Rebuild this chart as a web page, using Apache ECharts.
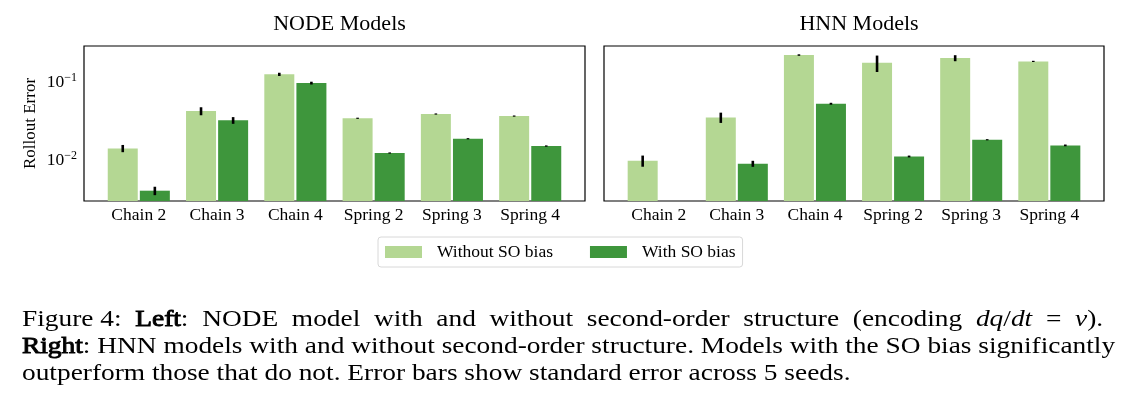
<!DOCTYPE html>
<html><head><meta charset="utf-8">
<script src="https://cdn.jsdelivr.net/npm/echarts@6/dist/echarts.min.js"></script>
<style>html,body{margin:0;padding:0;background:#fff}#c{width:1129px;height:402px}</style>
</head><body><div id="c"></div>
<script>
const categories = ['Chain 2','Chain 3','Chain 4','Spring 2','Spring 3','Spring 4'];
const nodeWithout    = [0.0141, 0.0425, 0.1256, 0.0343, 0.0389, 0.0366];
const nodeWithoutErr = [0.0015, 0.0050, 0.0060, 0.0005, 0.0005, 0.0004];
const nodeWith       = [0.00404, 0.0323, 0.0970, 0.0123, 0.01875, 0.0151];
const nodeWithErr    = [0.0005, 0.0032, 0.0040, 0.0002, 0.0003, 0.0003];
const hnnWithout     = [0.0098, 0.0352, 0.222, 0.1766, 0.203, 0.184];
const hnnWithoutErr  = [0.0016, 0.0053, 0.005, 0.042, 0.018, 0.001];
const hnnWith        = [null, 0.00897, 0.0527, 0.0111, 0.0182, 0.0154];
const hnnWithErr     = [null, 0.0008, 0.0015, 0.0003, 0.0003, 0.0004];
const yTicks = [0.01, 0.1];
const yTickExp = ['\u22122', '\u22121'];
const seriesNames = ['Without SO bias', 'With SO bias'];
const panelTitles = ['NODE Models', 'HNN Models'];

const LIGHT = '#b4d793', DARK = '#3e963c';
const FONT = 'Liberation Serif';
const OFF = 0.205;
const BW = 30;
const YMIN = 0.00298, YMAX = 0.29;

function barData(vals, errs, shift) {
  const out = [];
  vals.forEach((v, i) => { if (v != null) out.push([i + shift, v, errs[i]]); });
  return out;
}
function renderBar(params, api) {
  const x = api.value(0), v = api.value(1);
  const top = api.coord([x, v]);
  const bot = api.coord([x, YMIN]);
  return { type: 'rect', shape: { x: top[0] - BW / 2, y: top[1], width: BW, height: bot[1] - top[1] },
           style: { fill: api.visual('color') } };
}
function renderErr(params, api) {
  const x = api.value(0), v = api.value(1), e = api.value(2);
  const p1 = api.coord([x, v - e]);
  const p2 = api.coord([x, v + e]);
  let y1 = p1[1], y2 = p2[1];
  if (Math.abs(y1 - y2) < 1.2) { const m = (y1 + y2) / 2; y1 = m + 0.6; y2 = m - 0.6; }
  return { type: 'line', shape: { x1: p1[0], y1: y1, x2: p2[0], y2: y2 },
           style: { stroke: '#000', lineWidth: 2.6 } };
}
function yLabel(v) {
  for (let i = 0; i < yTicks.length; i++) {
    if (Math.abs(v / yTicks[i] - 1) < 1e-6) return '{b|10}{s|' + yTickExp[i] + '}';
  }
  return '';
}

const grids = [
  { left: 84, top: 46, width: 501, height: 155 },
  { left: 604, top: 46, width: 500, height: 155 }
].map(g => Object.assign(g, { show: true, borderColor: '#000', borderWidth: 1.2, backgroundColor: 'transparent' }));

const xAxes = [0, 1].map(gi => ({
  type: 'value', gridIndex: gi, min: -0.7, max: 5.7,
  axisLine: { show: false }, axisTick: { show: false }, splitLine: { show: false },
  axisLabel: {
    customValues: categories.map((c, i) => i),
    formatter: v => categories[Math.round(v)] || '',
    fontFamily: FONT, fontSize: 17.5, color: '#000', margin: 5
  }
}));
const yAxes = [0, 1].map(gi => ({
  type: 'log', logBase: 10, gridIndex: gi, min: YMIN, max: YMAX,
  name: gi === 0 ? 'Rollout Error' : '', nameLocation: 'middle', nameGap: 45, nameRotate: 90,
  nameTextStyle: { fontFamily: FONT, fontSize: 17, color: '#000' },
  axisLine: { show: false }, axisTick: { show: false }, splitLine: { show: false }, minorTick: { show: false },
  axisLabel: {
    show: gi === 0, showMinLabel: false, showMaxLabel: false, margin: 7,
    formatter: yLabel,
    rich: {
      b: { fontFamily: FONT, fontSize: 17.5, color: '#000' },
      s: { fontFamily: FONT, fontSize: 12, color: '#000', padding: [0, 0, 9, 0] }
    }
  }
}));

const panels = [
  { w: nodeWithout, we: nodeWithoutErr, s: nodeWith, se: nodeWithErr },
  { w: hnnWithout, we: hnnWithoutErr, s: hnnWith, se: hnnWithErr }
];
const series = [];
panels.forEach((p, gi) => {
  series.push({ name: seriesNames[0], type: 'custom', xAxisIndex: gi, yAxisIndex: gi, renderItem: renderBar,
    data: barData(p.w, p.we, -OFF), itemStyle: { color: LIGHT }, z: 2 });
  series.push({ name: seriesNames[1], type: 'custom', xAxisIndex: gi, yAxisIndex: gi, renderItem: renderBar,
    data: barData(p.s, p.se, OFF), itemStyle: { color: DARK }, z: 2 });
});
panels.forEach((p, gi) => {
  series.push({ type: 'custom', xAxisIndex: gi, yAxisIndex: gi, renderItem: renderErr,
    data: barData(p.w, p.we, -OFF), z: 5, silent: true });
  series.push({ type: 'custom', xAxisIndex: gi, yAxisIndex: gi, renderItem: renderErr,
    data: barData(p.s, p.se, OFF), z: 5, silent: true });
});

const CAPF = 23;
const capRich = {
  n: { font: 'normal ' + CAPF + 'px "Liberation Serif"', fill: '#000' },
  b: { font: 'normal ' + CAPF + 'px "Liberation Serif"', fill: '#000', stroke: '#000', lineWidth: 0.9 },
  i: { font: 'italic ' + CAPF + 'px "Liberation Serif"', fill: '#000' }
};
const capLines = [
  '{n|Figure 4:  }{b|Left}{n|:  NODE  model  with  and  without  second-order  structure  (encoding  }{i|dq}{n|/}{i|dt}{n|  =  }{i|v}{n|).}',
  '{b|Right}{n|: HNN models with and without second-order structure. Models with the SO bias significantly}',
  '{n|outperform those that do not. Error bars show standard error across 5 seeds.}'
];

const option = {
  animation: false,
  backgroundColor: '#fff',
  title: [
    { text: panelTitles[0], left: 334.5, top: 8, textAlign: 'center',
      textStyle: { fontFamily: FONT, fontSize: 22, fontWeight: 'normal', color: '#000' } },
    { text: panelTitles[1], left: 854, top: 8, textAlign: 'center',
      textStyle: { fontFamily: FONT, fontSize: 22, fontWeight: 'normal', color: '#000' } }
  ],
  graphic: capLines.map((t, k) => ({
    type: 'text', x: 22, y: 308 + k * 27, scaleX: 1.19,
    style: { text: t, rich: capRich, font: 'normal ' + CAPF + 'px "Liberation Serif"', fill: '#000' }
  })),
  legend: {
    data: seriesNames, left: 378, top: 237, orient: 'horizontal',
    padding: [6, 7, 6, 7], itemWidth: 37, itemHeight: 12, itemGap: 37,
    backgroundColor: '#fff', borderColor: '#d8d8d8', borderWidth: 1, borderRadius: 3,
    icon: 'rect',
    textStyle: { fontFamily: FONT, fontSize: 17.5, color: '#000', padding: [0, 0, 0, 10] }
  },
  grid: grids, xAxis: xAxes, yAxis: yAxes, series: series
};
const chart = echarts.init(document.getElementById('c'), null, { renderer: 'canvas' });
chart.setOption(option);
</script></body></html>
